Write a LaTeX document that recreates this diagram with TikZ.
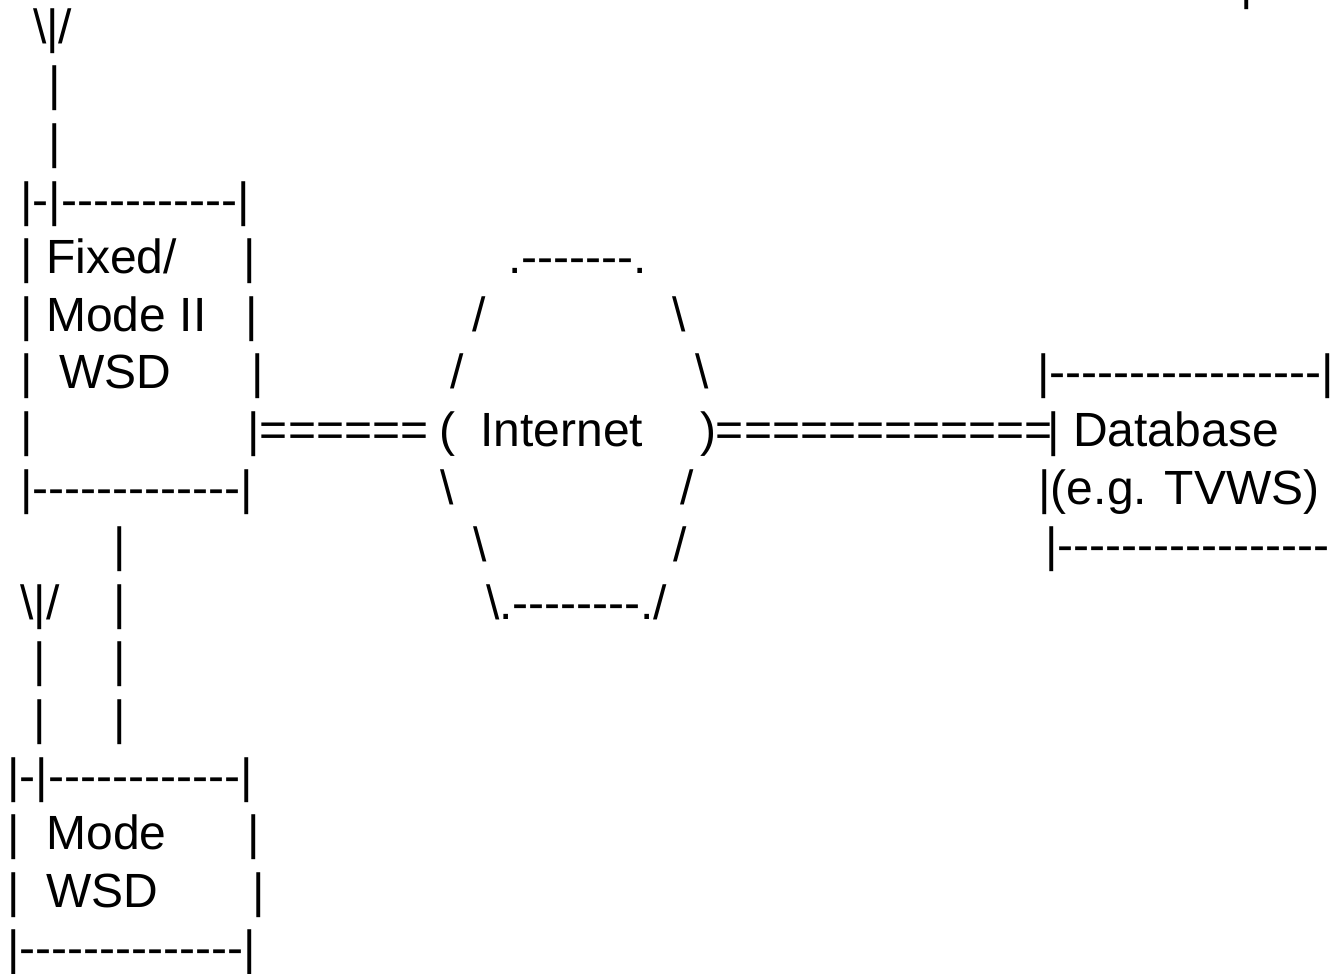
\documentclass[tikz,border=0pt]{standalone}
\usepackage{fontspec}
\setmainfont{Liberation Sans}[Ligatures=TeXOff]
\newcommand\bs{\textbackslash}
\begin{document}
\begin{tikzpicture}[x=1pt,y=-1pt,
  t/.style={anchor=base west, inner sep=0pt, outer sep=0pt, font=\fontsize{48}{57.6}\selectfont}]
\useasboundingbox (0,0) rectangle (1330,974);
\fill[white] (0,0) rectangle (1330,974);
% top-right fragment
\node[t] (tr) at (1240.5,0) {|};
% line 1-3: antenna of fixed WSD
\node[t] (a1) at (33,43.2) {\bs|/};
\node[t] (a2) at (48,100.8) {|};
\node[t] (a3) at (48,158.4) {|};
% fixed / mode II box
\node[t] (f4) at (20.5,216) {|-|-----------|};
\node[t] (f5) at (20.5,273.6) {| Fixed/};
\node[t] (f5r) at (243.8,273.6) {|};
\node[t] (f6) at (20.5,331.2) {| Mode II};
\node[t] (f6r) at (245.5,331.2) {|};
\node[t] (f7) at (20.5,388.8) {| \ WSD};
\node[t] (f7r) at (251.5,388.8) {|};
\node[t] (f8) at (20.5,446.4) {|};
\node[t] (f8r) at (247.5,446.4) {|======};
\node[t] (f9) at (20.5,504) {|-------------|};
% internet cloud
\node[t] (i5) at (508.5,273.6) {.-------.};
\node[t] (i6l) at (472,331.2) {/};
\node[t] (i6r) at (672,331.2) {\bs};
\node[t] (i7l) at (450,388.8) {/};
\node[t] (i7r) at (695,388.8) {\bs};
\node[t] (i8l) at (439,446.4) {(};
\node[t] (inet) at (480.5,446.4) {Internet};
\node[t] (i8r) at (700,446.4) {)============};
\node[t] (i9l) at (440,504) {\bs};
\node[t] (i9r) at (680,504) {/};
\node[t] (i10l) at (473,561.6) {\bs};
\node[t] (i10r) at (673,561.6) {/};
\node[t] (i11) at (486,619.2) {\bs.--------./};
% database box
\node[t] (d7) at (1037.5,388.8) {|-----------------|};
\node[t] (d8) at (1047.5,446.4) {| Database};
\node[t] (d9) at (1038.5,504) {|(e.g. TVWS)};
\node[t] (d10) at (1045.5,561.6) {|-----------------};
% link between the two WSDs
\node[t] (l10) at (113.5,561.6) {|};
\node[t] (l11) at (113.5,619.2) {|};
\node[t] (l12) at (113.5,676.8) {|};
\node[t] (l13) at (113.5,734.4) {|};
% antenna of mode WSD
\node[t] (b11) at (20.5,619.2) {\bs|/};
\node[t] (b12) at (33.5,676.8) {|};
\node[t] (b13) at (33.5,734.4) {|};
% mode WSD box
\node[t] (m14) at (7.5,792) {|-|------------|};
\node[t] (m15) at (7.5,849.6) {| \ Mode};
\node[t] (m15r) at (247.5,849.6) {|};
\node[t] (m16) at (7.5,907.2) {| \ WSD};
\node[t] (m16r) at (252.5,907.2) {|};
\node[t] (m17) at (7.5,964.8) {|--------------|};
\end{tikzpicture}
\end{document}
